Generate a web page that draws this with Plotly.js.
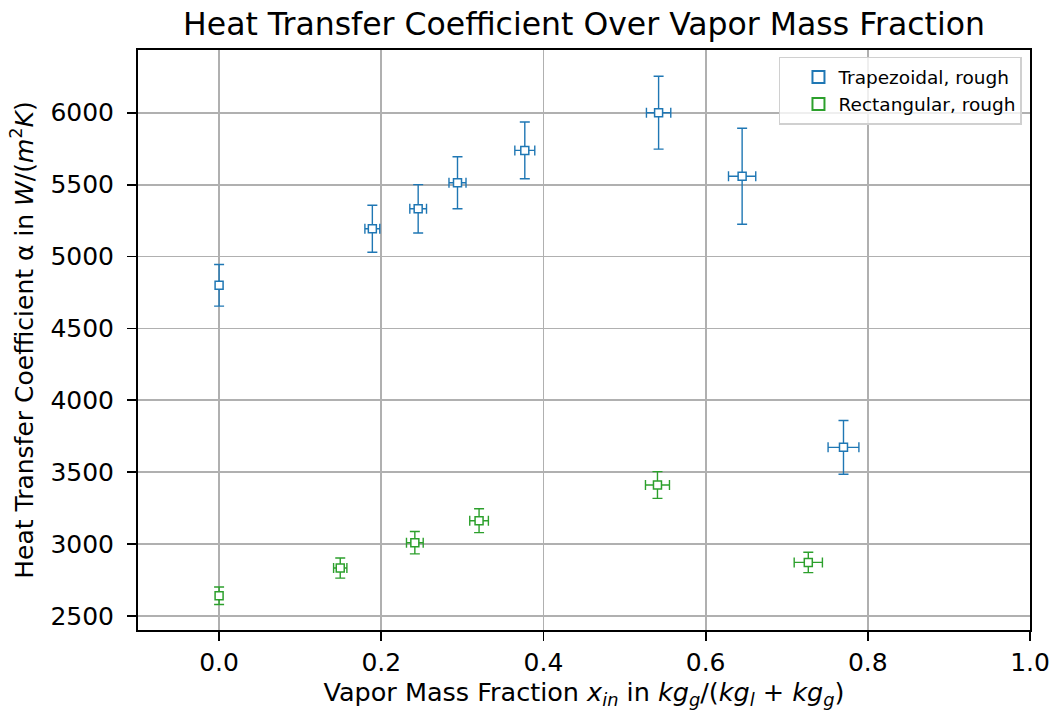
<!DOCTYPE html>
<html>
<head>
<meta charset="utf-8">
<script src="https://cdn.plot.ly/plotly-3.0.1.min.js"></script>
<style>html,body{margin:0;padding:0;background:#fff;}#chart{width:1053px;height:717px;}</style>
</head>
<body>
<div id="chart"></div>
<script>
// Trapezoidal, rough
const trapX    = [0.0, 0.189, 0.2455, 0.294, 0.377, 0.542, 0.645, 0.770];
const trapY    = [4800, 5193, 5332, 5513, 5738, 6000, 5558, 3673];
const trapXErr = [0.0, 0.0092, 0.0103, 0.0105, 0.0123, 0.015, 0.0168, 0.019];
const trapYErr = [145, 163, 168, 181, 197, 253, 334, 187];
// Rectangular, rough
const rectX    = [0.0, 0.1494, 0.2414, 0.3206, 0.5406, 0.7266];
const rectY    = [2641, 2834, 3010, 3163, 3411, 2873];
const rectXErr = [0.0, 0.0082, 0.0103, 0.0115, 0.0148, 0.0174];
const rectYErr = [61, 70, 78, 83, 93, 71];

const seriesNames = ["Trapezoidal, rough", "Rectangular, rough"];
const colors = ["#1f77b4", "#2ca02c"];
const xTicks = [0.0, 0.2, 0.4, 0.6, 0.8, 1.0];
const xTickText = ["0.0", "0.2", "0.4", "0.6", "0.8", "1.0"];
const yTicks = [2500, 3000, 3500, 4000, 4500, 5000, 5500, 6000];

function mk(x, y, xe, ye, name, color) {
  return {
    type: "scatter", mode: "markers", name: name, x: x, y: y,
    marker: {symbol: "square", size: 8, color: "#ffffff", line: {color: color, width: 1.5}},
    error_x: {type: "data", array: xe, visible: true, color: color, thickness: 1.4, width: 5},
    error_y: {type: "data", array: ye, visible: true, color: color, thickness: 1.4, width: 5},
    cliponaxis: false
  };
}

const data = [
  mk(trapX, trapY, trapXErr, trapYErr, seriesNames[0], colors[0]),
  mk(rectX, rectY, rectXErr, rectYErr, seriesNames[1], colors[1])
];

const font = "DejaVu Sans, sans-serif";
const layout = {
  width: 1053, height: 717,
  margin: {l: 138, r: 23, t: 50, b: 87},
  paper_bgcolor: "#ffffff", plot_bgcolor: "#ffffff",
  font: {family: font, color: "#000000"},
  showlegend: true,
  title: {text: "Heat Transfer Coefficient Over Vapor Mass Fraction", font: {size: 31.5, family: font, color: "#000"},
          xref: "paper", x: 0.5, xanchor: "center", y: 0.967, yanchor: "middle"},
  xaxis: {
    range: [-0.1, 1.0], automargin: false,
    tickvals: xTicks, ticktext: xTickText,
    ticks: "outside", ticklen: 9, tickwidth: 1.8, tickcolor: "#000",
    showline: true, linecolor: "#000", linewidth: 2, mirror: true,
    showgrid: true, gridcolor: "#b0b0b0", gridwidth: 1.8,
    zeroline: false,
    tickfont: {size: 25, family: font},
    title: {text: "Vapor Mass Fraction <i>x</i><sub><i>in</i></sub> in <i>kg</i><sub><i>g</i></sub>/(<i>kg</i><sub><i>l</i></sub> + <i>kg</i><sub><i>g</i></sub>)", font: {size: 25.5, family: font}, standoff: 5}
  },
  yaxis: {
    range: [2403, 6436], automargin: false,
    tickvals: yTicks,
    ticks: "outside", ticklen: 9, tickwidth: 1.8, tickcolor: "#000",
    ticklabelstandoff: 8,
    showline: true, linecolor: "#000", linewidth: 2, mirror: true,
    showgrid: true, gridcolor: "#b0b0b0", gridwidth: 1.8,
    zeroline: false,
    tickfont: {size: 25, family: font},
    title: {text: "Heat Transfer Coefficient α in <i>W</i>/(<i>m</i><sup>2</sup><i>K</i>)", font: {size: 25, family: font}, standoff: 10}
  },
  legend: {
    x: 0.991, xanchor: "right", y: 0.988, yanchor: "top",
    bgcolor: "rgba(255,255,255,0.8)", bordercolor: "#d0d0d0", borderwidth: 1.5,
    font: {size: 18.5, family: font}, itemsizing: "constant", tracegroupgap: 0,
    indentation: 18
  }
};

Plotly.newPlot("chart", data, layout, {displayModeBar: false, staticPlot: true});
</script>
</body>
</html>
